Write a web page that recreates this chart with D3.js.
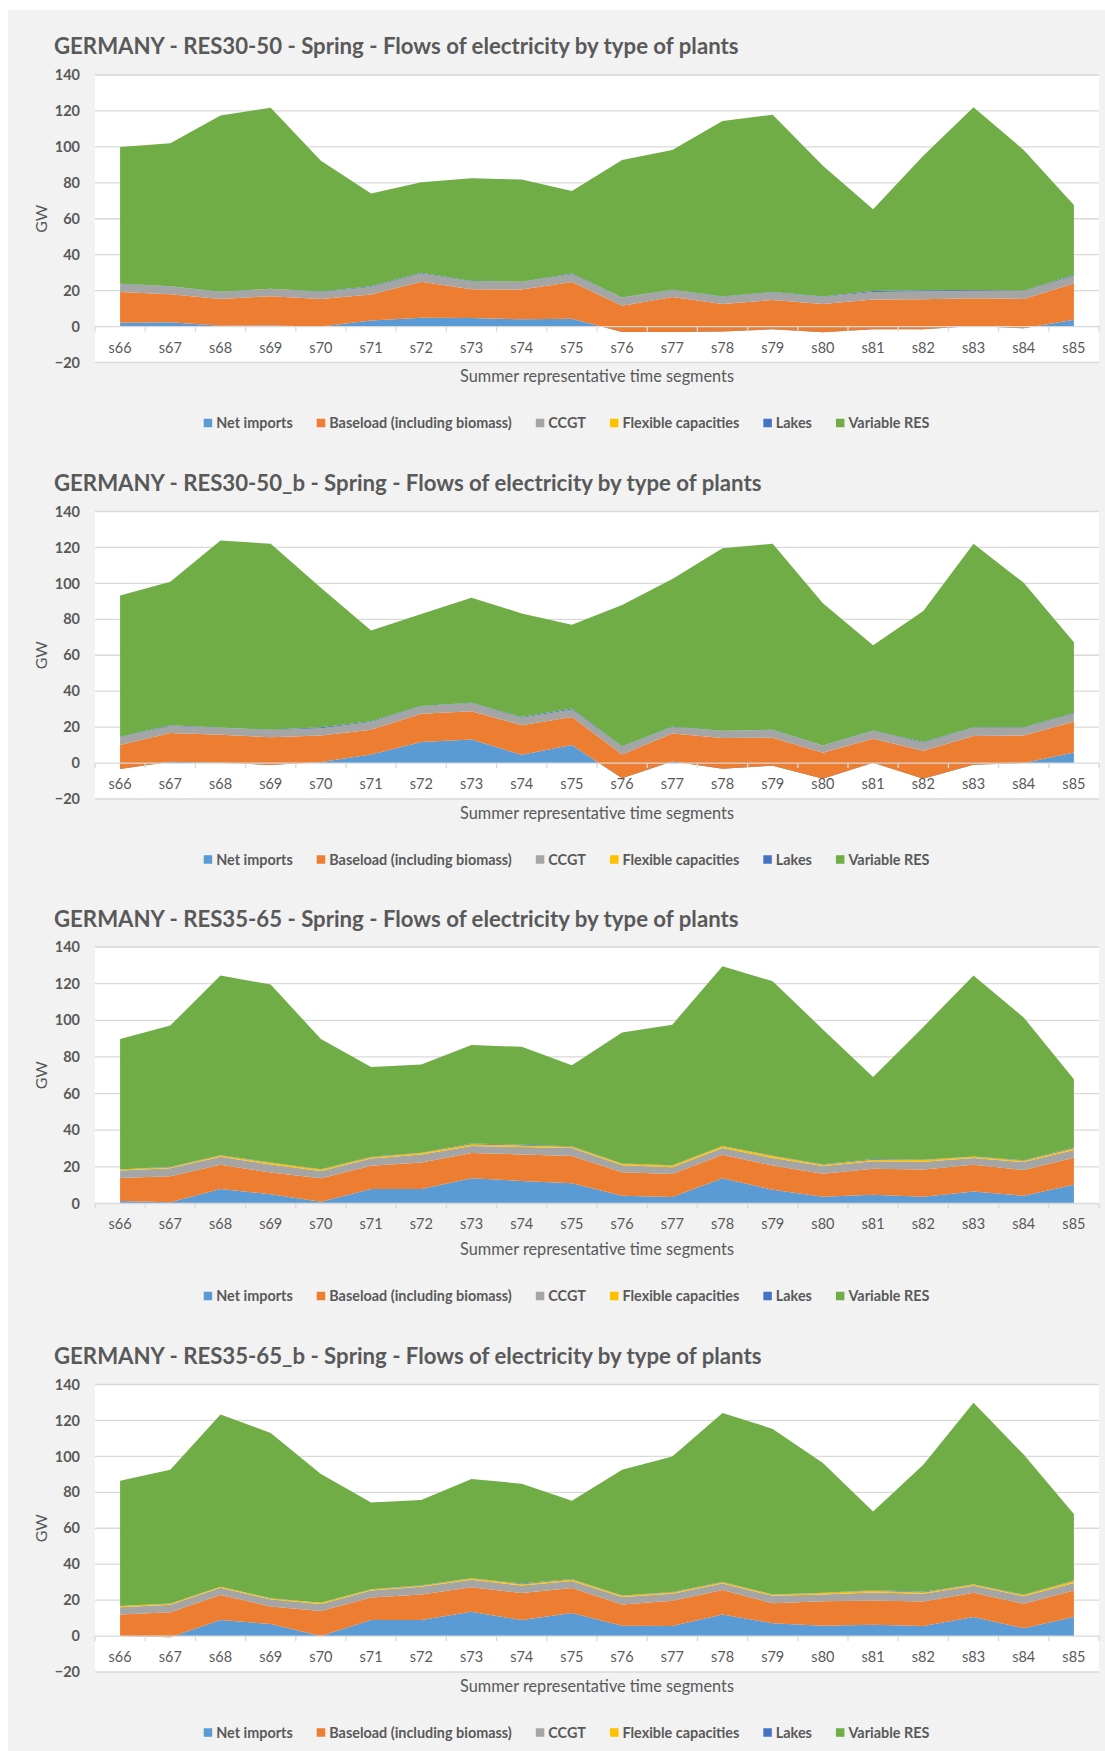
<!DOCTYPE html>
<html>
<head>
<meta charset="utf-8">
<script src="https://cdn.jsdelivr.net/npm/d3@7"></script>
<style>
  html, body { margin: 0; padding: 0; background: #ffffff; }
  svg { display: block; }
  text { font-family: Lato, "Open Sans", "Liberation Sans", sans-serif; fill: #595959; }
</style>
</head>
<body>
<svg id="chart" width="1105" height="1751"></svg>
<script>
// ---------------- DATA ----------------
const categories = ["s66","s67","s68","s69","s70","s71","s72","s73","s74","s75",
                    "s76","s77","s78","s79","s80","s81","s82","s83","s84","s85"];
const seriesNames = ["Net imports","Baseload (including biomass)","CCGT","Flexible capacities","Lakes","Variable RES"];
const seriesKeys = ["net","base","ccgt","flex","lakes","vres"];
const seriesColors = ["#5b9bd5","#ed7d31","#a5a5a5","#ffc000","#4472c4","#70ad47"];
const yTicksWithNeg = [-20,0,20,40,60,80,100,120,140];
const yTicksPositive = [0,20,40,60,80,100,120,140];
const chartTitles = [
  "GERMANY - RES30-50 - Spring - Flows of electricity by type of plants",
  "GERMANY - RES30-50_b - Spring - Flows of electricity by type of plants",
  "GERMANY - RES35-65 - Spring - Flows of electricity by type of plants",
  "GERMANY - RES35-65_b - Spring - Flows of electricity by type of plants"
];
const xAxisTitle = "Summer representative time segments";
const yAxisTitle = "GW";

// Chart 1: RES30-50
const c1Net   = [2.1,2.4,0.4,0.6,0,3.4,4.9,4.7,4.1,4.3,-3,-3,-2.8,-1.5,-3.2,-1.5,-1.5,0.3,-1,3.8];
const c1Base  = [17.2,15.6,15.0,16.3,15.4,14.4,20.1,16.1,16.5,20.5,14.6,19.5,15.4,16.3,15.8,16.5,16.7,15.5,16.4,20.2];
const c1Ccgt  = [4.3,4.3,3.9,4.1,3.9,4.2,4.5,4.3,4.2,4.3,4.4,3.8,3.9,4.2,3.9,4.3,4.5,4.2,4.3,4.3];
const c1Flex  = [0,0,0,0,0,0,0,0,0,0,0,0,0,0,0,0,0,0,0,0];
const c1Lakes = [0.2,0.1,0.1,0.1,0.2,0.4,0.4,0.2,0.2,0.5,0.2,0.2,0.2,0.3,0.2,0.5,0.5,0.3,0.3,0.5];
const c1Vres  = [76.2,79.6,98.0,100.7,72.8,51.6,50.4,57.2,56.8,45.9,76.5,77.8,97.7,98.6,72.8,45.5,74.8,101.7,78.3,38.9];

// Chart 2: RES30-50_b
const c2Net   = [-3.3,0.7,0.2,-1.1,0.6,4.8,11.7,13.1,4.6,10,-8.5,0.9,-3.1,-1.5,-8.7,0.2,-8.7,-0.9,0,5.9];
const c2Base  = [13.3,16.0,15.5,15.5,14.8,13.7,15.7,15.8,16.5,15.6,13.3,15.6,17.0,15.6,14.4,13.3,15.6,15.9,15.4,17.1];
const c2Ccgt  = [4.4,3.9,3.9,3.9,4.0,4.3,4.1,4.4,4.1,4.2,4.3,3.5,3.9,4.2,3.9,4.3,4.4,4.6,4.2,4.4];
const c2Flex  = [0,0,0,0,0,0,0,0,0,0,0,0,0,0,0,0,0,0,0,0];
const c2Lakes = [0.2,0.4,0.2,0.2,0.5,0.5,0.3,0.3,0.4,0.5,0.2,0.2,0.2,0.2,0.2,0.3,0.4,0.3,0.3,0.5];
const c2Vres  = [78.7,79.9,104.1,103.5,77.6,50.5,51.2,58.4,57.7,46.7,78.7,82.3,101.6,103.5,79.2,47.4,72.9,102.1,80.4,39.4];

// Chart 3: RES35-65
const c3Net   = [1.3,0.7,7.9,5.1,0.9,7.9,7.9,13.8,12.3,11.0,4.2,3.5,13.8,7.5,3.7,4.8,3.7,6.6,4.2,10.3];
const c3Base  = [12.6,14.2,13.2,11.8,12.9,12.7,14.5,13.7,14.5,14.9,12.9,12.6,12.8,13.2,12.6,14.1,14.8,14.5,14.1,14.7];
const c3Ccgt  = [4.1,4.4,4.4,4.4,4.0,4.0,4.4,3.9,4.0,4.4,3.8,3.7,3.7,4.1,4.1,4.2,4.3,3.7,4.3,4.2];
const c3Flex  = [0.5,0.5,0.7,0.9,0.7,0.7,0.7,0.9,0.9,0.7,0.8,0.9,0.9,1.1,0.7,0.8,0.9,0.7,0.7,0.9];
const c3Lakes = [0.1,0.3,0.2,0.2,0.2,0.2,0.2,0.5,0.3,0.3,0.2,0.2,0.2,0.2,0.3,0.4,0.2,0.2,0.3,0.4];
const c3Vres  = [71.2,77.0,98.0,97.1,71.1,49.0,48.1,53.7,53.5,44.2,71.4,76.7,98.1,95.2,73.6,44.8,72.5,98.8,77.9,37.3];

// Chart 4: RES35-65_b
const c4Net   = [0,-0.6,8.9,6.7,0,8.9,8.9,13.5,8.9,12.8,5.7,5.6,12.0,7.2,5.7,6.3,5.6,10.6,4.4,10.6];
const c4Base  = [12.0,13.9,13.9,9.8,13.9,12.6,14.2,13.7,15.0,13.9,11.9,14.0,13.6,11.1,13.7,13.5,13.7,13.5,13.6,14.8];
const c4Ccgt  = [4.1,4.1,4.1,3.9,3.9,3.9,4.3,4.1,4.2,4.0,4.1,3.9,3.7,4.1,3.7,4.5,4.2,3.9,4.2,4.2];
const c4Flex  = [0.6,0.6,0.5,0.5,0.7,0.5,0.6,0.7,0.8,0.8,0.7,0.8,0.7,0.6,0.8,0.9,0.8,0.7,0.6,1.0];
const c4Lakes = [0.1,0.1,0.1,0.1,0.1,0.2,0.3,0.2,0.3,0.3,0.2,0.2,0.2,0.2,0.2,0.3,0.3,0.2,0.2,0.3];
const c4Vres  = [69.6,74.5,95.8,92.0,71.6,48.3,47.4,55.2,55.6,43.5,70.0,75.5,94.0,92.1,72.2,43.8,70.8,100.9,78.0,37.0];

// ---------------- BUILD ----------------
function rows(net, base, ccgt, flex, lakes, vres) {
  return categories.map((c, i) => ({cat: c, net: net[i], base: base[i], ccgt: ccgt[i],
                                     flex: flex[i], lakes: lakes[i], vres: vres[i]}));
}
const charts = [
  {title: chartTitles[0], data: rows(c1Net,c1Base,c1Ccgt,c1Flex,c1Lakes,c1Vres), ticks: yTicksWithNeg},
  {title: chartTitles[1], data: rows(c2Net,c2Base,c2Ccgt,c2Flex,c2Lakes,c2Vres), ticks: yTicksWithNeg},
  {title: chartTitles[2], data: rows(c3Net,c3Base,c3Ccgt,c3Flex,c3Lakes,c3Vres), ticks: yTicksPositive},
  {title: chartTitles[3], data: rows(c4Net,c4Base,c4Ccgt,c4Flex,c4Lakes,c4Vres), ticks: yTicksWithNeg}
];

const svg = d3.select("#chart");
svg.append("rect").attr("x", 8).attr("y", 10).attr("width", 1097).attr("height", 1741).attr("fill", "#f2f2f2");

const blockH = 436.5;
const plotL = 95, plotR = 1099;
const stack = d3.stack().keys(seriesKeys);

charts.forEach((ch, ci) => {
  const g = svg.append("g").attr("transform", `translate(0,${ci * blockH})`);
  const yMin = d3.min(ch.ticks), yMax = d3.max(ch.ticks);
  const plotTop = yMin < 0 ? 75 : 74;
  const plotBottom = yMin < 0 ? 362.5 : 330.5;

  const x = d3.scaleBand().domain(categories).range([plotL, plotR]);
  const y = d3.scaleLinear().domain([yMin, yMax]).range([plotBottom, plotTop]);
  const xc = d => x(d) + x.bandwidth() / 2;

  // title
  g.append("text").attr("x", 54).attr("y", 54)
    .style("font-size", "22.2px").style("font-weight", "700")
    .text(ch.title);

  // plot area
  g.append("rect").attr("x", plotL).attr("y", y(yMax))
    .attr("width", plotR - plotL).attr("height", y(yMin) - y(yMax)).attr("fill", "#ffffff");

  // gridlines
  g.append("g").selectAll("line").data(ch.ticks.filter(t => t !== 0)).join("line")
    .attr("x1", plotL).attr("x2", plotR)
    .attr("y1", d => y(d)).attr("y2", d => y(d))
    .attr("stroke", "#d9d9d9").attr("stroke-width", 1.3);

  // areas
  const series = stack(ch.data);
  const area = d3.area()
    .x(d => xc(d.data.cat))
    .y0(d => y(d[0]))
    .y1(d => y(d[1]));
  g.append("g").selectAll("path").data(series).join("path")
    .attr("d", area)
    .attr("fill", (d, i) => seriesColors[i]);

  // x axis line + boundary ticks
  const y0 = y(0);
  g.append("line").attr("x1", plotL).attr("x2", plotR).attr("y1", y0).attr("y2", y0)
    .attr("stroke", "#d9d9d9").attr("stroke-width", 1.3);
  const bounds = categories.map(c => x(c)).concat([plotR]);
  g.append("g").selectAll("line").data(bounds).join("line")
    .attr("x1", d => d).attr("x2", d => d).attr("y1", y0).attr("y2", y0 + 5)
    .attr("stroke", "#d9d9d9").attr("stroke-width", 1.3);

  // x labels
  const xAxis = d3.axisBottom(x).tickSize(0).tickPadding(0);
  const xg = g.append("g").attr("transform", `translate(0,${(yMin < 0 ? 347.5 : 350.5)})`).call(xAxis);
  xg.select(".domain").remove();
  xg.selectAll("text").attr("y", 0).attr("dy", "0.35em")
    .style("font-size", "14.5px").style("font-family", "Lato, sans-serif").attr("fill", "#595959");

  // y labels
  const yAxis = d3.axisLeft(y).tickValues(ch.ticks).tickSize(0).tickPadding(0);
  const yg = g.append("g").attr("transform", "translate(80,0)").call(yAxis);
  yg.select(".domain").remove();
  yg.selectAll("text").style("font-size", "14.5px").style("font-weight", "700")
    .style("font-family", "Lato, sans-serif").attr("fill", "#595959");

  // axis titles
  g.append("text").attr("x", (plotL + plotR) / 2).attr("y", 376.5).attr("dy", "0.35em")
    .attr("text-anchor", "middle").style("font-size", "16.3px").text(xAxisTitle);
  g.append("text").attr("transform", `translate(41,${(plotTop + plotBottom) / 2}) rotate(-90)`)
    .attr("text-anchor", "middle").attr("dy", "0.35em").style("font-size", "16px").text(yAxisTitle);

  // legend
  const lg = g.append("g").attr("transform", "translate(0,423)");
  const items = lg.selectAll("g").data(seriesNames).join("g");
  items.append("rect").attr("width", 8.5).attr("height", 8.5).attr("y", -4.25)
    .attr("fill", (d, i) => seriesColors[i]);
  items.append("text").attr("x", 12.5).attr("dy", "0.35em")
    .style("font-size", "14.4px").style("font-weight", "700").text(d => d);
  let cx = 0;
  const pos = [];
  items.each(function() {
    const w = 12.5 + this.querySelector("text").getComputedTextLength();
    pos.push(cx); cx += w + 24;
  });
  const totalW = cx - 24;
  const start = 566.5 - totalW / 2;
  items.attr("transform", (d, i) => `translate(${start + pos[i]},0)`);
});
</script>
</body>
</html>
